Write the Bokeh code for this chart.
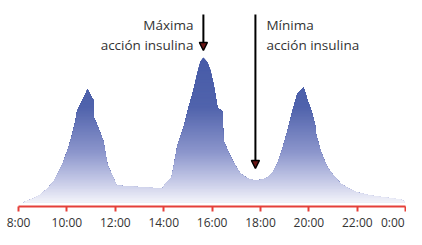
import numpy as np
from bokeh.plotting import figure
from bokeh.models import Range1d, FixedTicker, Label, Arrow, NormalHead
from bokeh.embed import file_html
from bokeh.resources import INLINE

# ---- data (time of day in hours, relative insulin action) ----
hours = [8.21, 8.29, 8.62, 8.91, 9.20, 9.45, 9.65, 9.86, 10.07, 10.23, 10.36, 10.40, 10.44,
         10.85, 11.10, 11.11, 11.31, 11.51, 11.68, 11.88, 12.05,
         13.95, 14.07, 14.32, 14.40, 14.57, 14.82, 15.02, 15.23, 15.40, 15.52, 15.64,
         15.81, 15.93, 16.06, 16.14, 16.22, 16.43, 16.47, 16.68, 16.84, 17.01, 17.17,
         17.46, 17.79, 18.08, 18.29, 18.50, 18.70, 18.91, 19.12, 19.32, 19.53, 19.78,
         19.86, 19.94, 20.07, 20.19, 20.27, 20.29, 20.48, 20.64, 20.77, 21.02, 21.31,
         21.64, 22.01, 22.55, 23.17, 23.79, 23.95]
level = [0, 1, 4, 8, 14, 21, 30, 41, 55, 69, 82, 90, 92,
         113, 102, 85, 74, 61, 37, 27, 17,
         14, 19, 25, 34, 57, 75, 94, 112, 130, 141, 145,
         140, 132, 118, 107, 95, 91, 62, 50, 42, 35, 29,
         24, 22, 23, 25, 30, 39, 54, 72, 91, 109, 115,
         109, 102, 94, 84, 76, 69, 52, 42, 35, 27, 19,
         14, 10, 7, 5, 3, 1]

tick_hours = [8, 10, 12, 14, 16, 18, 20, 22, 24]
tick_labels = ["8:00", "10:00", "12:00", "14:00", "16:00", "18:00", "20:00", "22:00", "0:00"]

max_text = ["Máxima", "acción insulina"]
min_text = ["Mínima", "acción insulina"]

# ---- styling ----
RED = "#e5403a"
TEXT = "#333333"
FONT = "Open Sans"
stops_L = [0, 20, 50, 95, 150]
stops_rgb = [(243, 243, 250), (200, 204, 232), (140, 150, 204), (80, 99, 172), (70, 90, 167)]


def grad_color(L):
    r = np.interp(L, stops_L, [c[0] for c in stops_rgb])
    g = np.interp(L, stops_L, [c[1] for c in stops_rgb])
    b = np.interp(L, stops_L, [c[2] for c in stops_rgb])
    return "#%02x%02x%02x" % (int(round(r)), int(round(g)), int(round(b)))


Y0, Y1 = -27, 202
AXIS_Y = -4
p = figure(width=406, height=229, output_backend="svg", toolbar_location=None,
           title=None,
           x_range=Range1d(7.2562, 24.0331), y_range=Range1d(Y0, Y1),
           y_axis_location=None, min_border_left=0, min_border_right=0,
           min_border_top=0, min_border_bottom=0)
p.outline_line_color = None
p.xgrid.visible = False
p.ygrid.visible = False
p.background_fill_color = "white"
p.border_fill_color = "white"

# ---- gradient-filled area, drawn as nested layers ----
hx = np.array(hours, dtype=float)
ly = np.array(level, dtype=float)
xd = np.union1d(np.linspace(hx[0], hx[-1], 1200), hx)
yd = np.interp(xd, hx, ly)
tops = np.arange(ly.max() + 2, 0, -1.5)
for top in tops:
    p.varea(x=xd, y1=0, y2=np.minimum(yd, top), fill_color=grad_color(top - 0.75))

# ---- x axis (red line + ticks), drawn at a fixed spot inside the plot area ----
ax = p.xaxis[0]
ax.fixed_location = AXIS_Y
ax.bounds = (tick_hours[0], tick_hours[-1])
ax.ticker = FixedTicker(ticks=tick_hours)
ax.major_label_overrides = {h: lab for h, lab in zip(tick_hours, tick_labels)}
ax.major_label_text_color = None
ax.minor_tick_line_color = None
ax.axis_line_color = RED
ax.axis_line_width = 2
ax.major_tick_line_color = RED
ax.major_tick_line_width = 2
ax.major_tick_out = 5
ax.major_tick_in = 0

for i, (h, lab) in enumerate(zip(tick_hours, tick_labels)):
    last = i == len(tick_hours) - 1
    p.add_layout(Label(x=h, y=AXIS_Y - 16, text=lab,
                       text_align="right" if last else "center",
                       x_offset=-1 if last else 0,
                       text_baseline="alphabetic", text_font=FONT,
                       text_font_size="12px", text_color=TEXT))

# ---- annotations ----
i_max = int(np.argmax(ly))
between = [i for i, h in enumerate(hours) if 16.5 < h < 19.0]
i_min = min(between, key=lambda i: level[i])
x_max, y_max = hours[i_max], level[i_max]
x_min, y_min = hours[i_min], level[i_min]

for xa, ya, gap in [(x_max, y_max, 7), (x_min, y_min, 12)]:
    p.add_layout(Arrow(end=NormalHead(size=8, fill_color="#6a1616", line_color="black", line_width=1.5),
                       x_start=xa, y_start=188, x_end=xa, y_end=ya + gap,
                       line_color="black", line_width=2))

for txt, yy in zip(max_text, [178, 158]):
    p.add_layout(Label(x=x_max, y=yy, x_offset=-10, text=txt, text_align="right",
                       text_baseline="alphabetic", text_font=FONT,
                       text_font_size="13.5px", text_color=TEXT))
for txt, yy in zip(min_text, [178, 158]):
    p.add_layout(Label(x=x_min, y=yy, x_offset=11, text=txt, text_align="left",
                       text_baseline="alphabetic", text_font=FONT,
                       text_font_size="13.5px", text_color=TEXT))

open("out.html", "w").write(file_html(p, INLINE))
